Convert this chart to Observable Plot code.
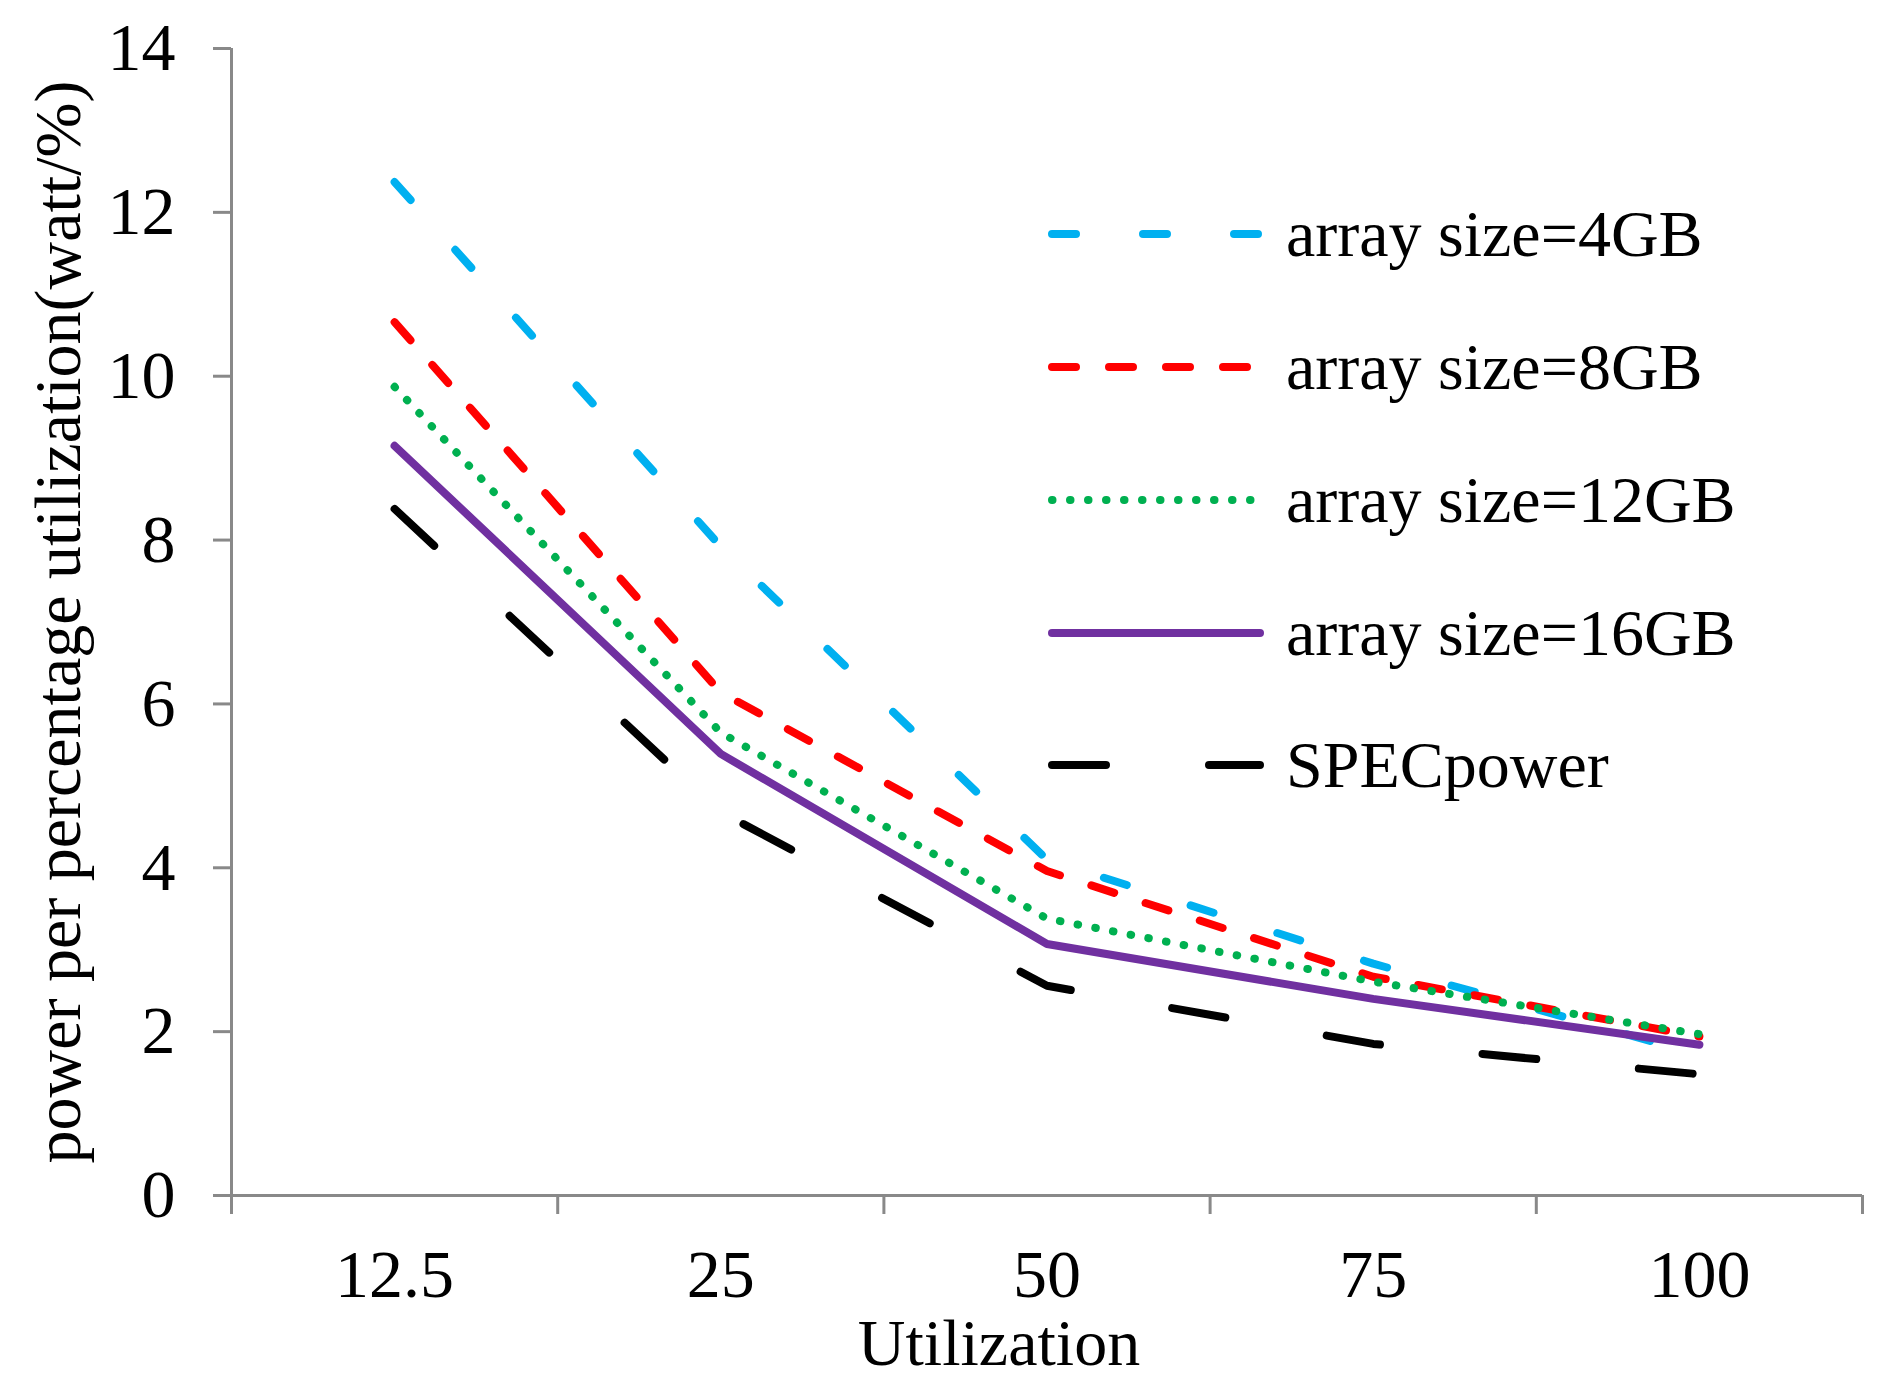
<!DOCTYPE html>
<html>
<head>
<meta charset="utf-8">
<script src="https://cdn.jsdelivr.net/npm/d3@7"></script>
<script src="https://cdn.jsdelivr.net/npm/@observablehq/plot@0.6"></script>
<style>
  body { margin: 0; background: #fff; }
  #wrap { position: relative; width: 1881px; height: 1386px; }
  #legend { position: absolute; left: 0; top: 0; }
</style>
</head>
<body>
<div id="wrap"></div>
<script>
// ---- data ----
const utilization = ["12.5", "25", "50", "75", "100"];
const seriesNames = ["array size=4GB", "array size=8GB", "array size=12GB", "array size=16GB", "SPECpower"];
const gb4  = [12.37, 7.92, 4.10, 2.83, 1.72];
const gb8  = [10.66, 6.14, 3.96, 2.67, 1.94];
const gb12 = [9.87, 5.65, 3.38, 2.61, 1.97];
const gb16 = [9.15, 5.39, 3.07, 2.40, 1.84];
const spec = [8.38, 4.68, 2.56, 1.85, 1.48];
const yTicks = [0, 2, 4, 6, 8, 10, 12, 14];
const yLabel = "power per percentage utilization(watt/%)";
const xLabel = "Utilization";

// ---- styles ----
const colors = ["#00B0F0", "#FF0000", "#00B050", "#7030A0", "#000000"];
const dashes = ["24,67", "24,33", "0.5,17.5", null, "54,103"];
const values = [gb4, gb8, gb12, gb16, spec];
const axisGray = "#898989";
const font = "'Liberation Serif', 'Times New Roman', serif";

const tables = values.map((vals, s) => vals.map((v, i) => ({i, v, s: seriesNames[s]})));

const lineMarks = tables.map((t, s) => Plot.lineY(t, {
  x: "i", y: "v",
  stroke: colors[s], strokeWidth: 8,
  strokeDasharray: dashes[s] || undefined,
  strokeLinecap: "round", strokeLinejoin: "round"
}));

const boundaries = d3.range(-0.5, 5, 1);

const chart = Plot.plot({
  width: 1881, height: 1386,
  marginLeft: 231, marginRight: 19, marginTop: 48, marginBottom: 191,
  x: {domain: [-0.5, 4.5]},
  y: {domain: [0, 14]},
  style: {fontFamily: font, color: "#000", background: "#fff"},
  marks: [
    Plot.axisY({ticks: yTicks, tickSize: 18, tickPadding: 38, stroke: axisGray, strokeWidth: 3, fontSize: 68, label: null}),
    Plot.axisX({ticks: boundaries, tickSize: 19, tickFormat: () => "", stroke: axisGray, strokeWidth: 3, label: null}),
    Plot.axisX({ticks: [0, 1, 2, 3, 4], tickSize: 0, tickPadding: 53, tickFormat: i => utilization[i], fontSize: 68, label: null}),
    Plot.ruleX([-0.5], {stroke: axisGray, strokeWidth: 3}),
    Plot.ruleY([0], {stroke: axisGray, strokeWidth: 3}),
    ...lineMarks,
    Plot.text([yLabel], {frameAnchor: "left", textAnchor: "middle", rotate: -90, dx: -173, fontSize: 66, lineAnchor: "middle", fill: "#000"}),
    Plot.text([xLabel], {frameAnchor: "bottom", dx: -48, dy: 148, fontSize: 66, lineAnchor: "middle", fill: "#000"})
  ]
});
document.getElementById("wrap").appendChild(chart);

// ---- legend overlay ----
const rowY = [234, 367, 500, 633, 765];
const lg = d3.select("#wrap").append("svg").attr("id", "legend")
  .attr("width", 1881).attr("height", 1386)
  .style("font-family", font);
seriesNames.forEach((name, s) => {
  const g = lg.append("g").attr("transform", `translate(0,${rowY[s]})`);
  const ln = g.append("line").attr("x1", 1052).attr("x2", 1260).attr("y1", 0).attr("y2", 0)
    .attr("stroke", colors[s]).attr("stroke-width", 8).attr("stroke-linecap", "round");
  if (dashes[s]) ln.attr("stroke-dasharray", dashes[s]);
  g.append("text").attr("x", 1286).attr("y", 22).attr("font-size", 66).attr("fill", "#000").text(name);
});
</script>
</body>
</html>
